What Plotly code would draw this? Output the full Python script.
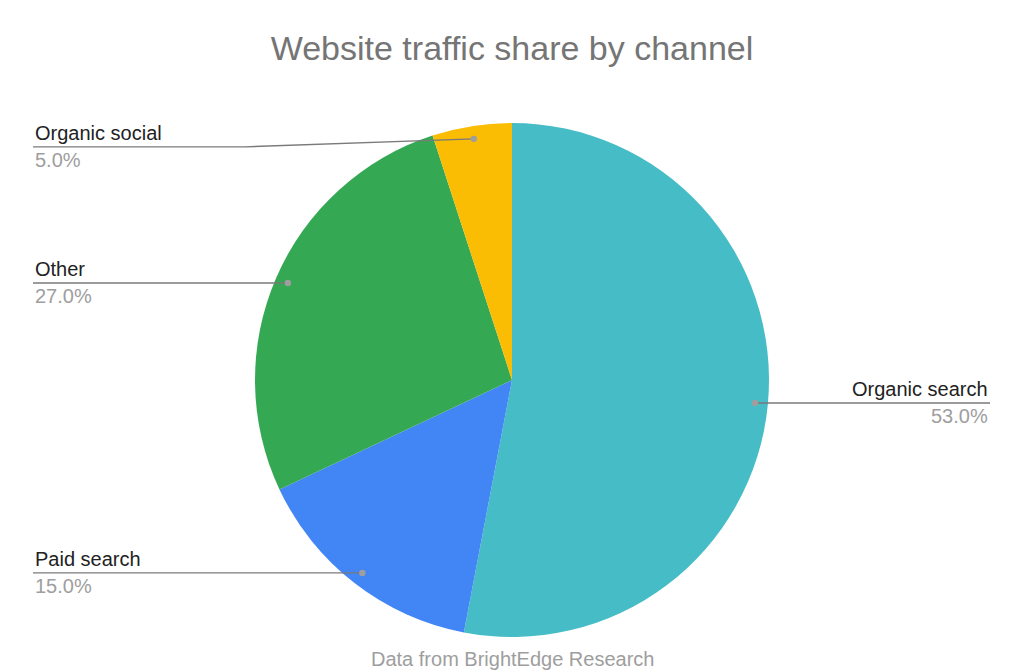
import math
import plotly.graph_objects as go

# data
channels = ["Organic search", "Paid search", "Other", "Organic social"]
shares = [53.0, 15.0, 27.0, 5.0]
colors = ["#46BDC6", "#4285F4", "#34A853", "#FBBC04"]

W, H = 1024, 671
cx, cy, r = 512, 380, 257   # pie centre / radius in pixels


def px(x):
    return x / W


def py(y):
    return 1 - y / H


fig = go.Figure(go.Pie(
    labels=channels,
    values=shares,
    sort=False,
    direction="clockwise",
    rotation=0,
    textinfo="none",
    hoverinfo="label+percent",
    marker=dict(colors=colors, line=dict(width=0)),
    domain=dict(x=[px(cx - r), px(cx + r)], y=[py(cy + r), py(cy - r)]),
    showlegend=False,
))

shapes = []
annotations = []
total = sum(shares)
start = 0.0
for name, val in zip(channels, shares):
    mid = (start + val / 2) / total * 2 * math.pi
    start += val
    dx, dy = math.sin(mid), -math.cos(mid)
    dot_x, dot_y = cx + 0.95 * r * dx, cy + 0.95 * r * dy
    line_y = dot_y
    right = dx > 0
    end_x = 990 if right else 33
    if not right and dot_y < 160:
        # small kink for the label near the top, like the original
        line_y = dot_y + 8
        shapes.append(dict(type="line", xref="paper", yref="paper",
                           x0=px(dot_x), y0=py(dot_y), x1=px(245), y1=py(line_y),
                           line=dict(color="#7a7a7a", width=1.4)))
        shapes.append(dict(type="line", xref="paper", yref="paper",
                           x0=px(245), y0=py(line_y), x1=px(end_x), y1=py(line_y),
                           line=dict(color="#7a7a7a", width=1.4)))
    else:
        shapes.append(dict(type="line", xref="paper", yref="paper",
                           x0=px(dot_x), y0=py(line_y), x1=px(end_x), y1=py(line_y),
                           line=dict(color="#7a7a7a", width=1.4)))
    shapes.append(dict(type="circle", xref="paper", yref="paper",
                       x0=px(dot_x - 3.2), x1=px(dot_x + 3.2),
                       y0=py(dot_y + 3.2), y1=py(dot_y - 3.2),
                       fillcolor="#9E9E9E", line=dict(width=0)))
    anchor = "right" if right else "left"
    annotations.append(dict(x=px(end_x), y=py(line_y - 1), xref="paper", yref="paper",
                            text=name, showarrow=False, xanchor=anchor, yanchor="bottom",
                            font=dict(size=20, color="#222222")))
    annotations.append(dict(x=px(end_x), y=py(line_y), xref="paper", yref="paper",
                            text=f"{val:.1f}%", showarrow=False, xanchor=anchor, yanchor="top",
                            font=dict(size=20, color="#9E9E9E")))

annotations.append(dict(x=0.5, y=py(659), xref="paper", yref="paper",
                        text="Data from BrightEdge Research", showarrow=False,
                        xanchor="center", yanchor="middle",
                        font=dict(size=20, color="#9E9E9E")))

fig.update_layout(
    width=W, height=H,
    margin=dict(l=0, r=0, t=0, b=0),
    paper_bgcolor="white",
    plot_bgcolor="white",
    font=dict(family="Liberation Sans, Arial, sans-serif"),
    title=dict(text="Website traffic share by channel", x=0.5, xanchor="center",
               y=py(48), yanchor="middle",
               font=dict(size=34, color="#757575")),
    shapes=shapes,
    annotations=annotations,
)

# the page's default body margin would push the chart off by 8px
fig.write_html("out.html", config={"displayModeBar": False},
               post_script="document.body.style.margin='0';")
